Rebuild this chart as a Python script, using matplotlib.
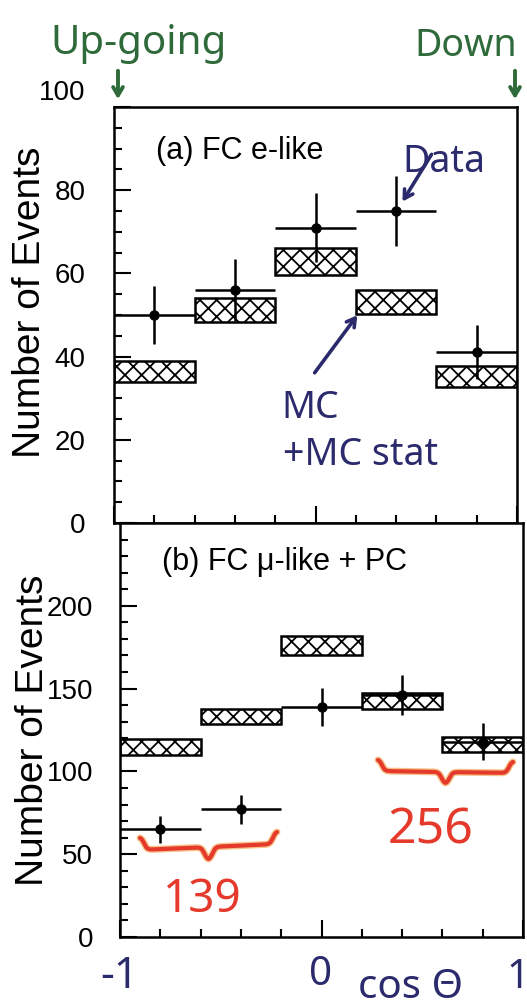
import numpy as np
import matplotlib
matplotlib.use('Agg')
import matplotlib.pyplot as plt
from matplotlib.ticker import MultipleLocator, FixedLocator
from matplotlib.transforms import ScaledTranslation

# zenith angle bins (cos theta)
bin_centers = [-0.8, -0.4, 0.0, 0.4, 0.8]
bin_half_width = 0.2

# (a) FC e-like
e_data = [50, 56, 71, 75, 41]
e_err = [7.0, 7.5, 8.3, 8.5, 6.5]
e_mc_lo = [34.0, 48.2, 59.6, 50.2, 32.8]
e_mc_hi = [39.0, 54.0, 66.2, 55.9, 37.7]

# (b) FC mu-like + PC
mu_data = [65, 77, 139, 146, 118]
mu_err = [8.0, 8.5, 11.6, 12.0, 11.0]
mu_mc_lo = [110.0, 128.4, 170.4, 137.5, 112.0]
mu_mc_hi = [119.4, 137.5, 181.9, 147.6, 120.6]

e_yticks = [0, 20, 40, 60, 80, 100]
mu_yticks = [0, 50, 100, 150, 200, 250]
mu_yticklabels = ['0', '50', '100', '150', '200', '']

GREEN = '#2f6a3a'
NAVY = '#2b2a6c'
RED = '#e5392b'

plt.rcParams['font.family'] = ['Liberation Sans', 'DejaVu Sans']
plt.rcParams['hatch.linewidth'] = 1.3

W, H = 527, 1008
fig = plt.figure(figsize=(W / 100, H / 100), dpi=100)


def px_axes(left, top, right, bottom):
    return fig.add_axes([left / W, 1 - bottom / H, (right - left) / W, (bottom - top) / H])


def draw_panel(ax, data, err, lo, hi, ymax, yminor, yticks, ylabels, title, title_y, pad):
    heights = np.array(hi) - np.array(lo)
    ax.bar(bin_centers, heights, bottom=lo, width=2 * bin_half_width,
           facecolor='white', edgecolor='black', hatch='xx', linewidth=1.8, zorder=2)
    ax.errorbar(bin_centers, data, xerr=bin_half_width, yerr=err, fmt='o',
                color='black', ms=6.5, elinewidth=1.8, capsize=0, zorder=3)
    ax.set_xlim(-1, 1)
    ax.set_ylim(0, ymax)
    ax.xaxis.set_major_locator(FixedLocator([-1, 0, 1]))
    ax.xaxis.set_minor_locator(MultipleLocator(0.2))
    ax.set_xticklabels([])
    ax.set_yticks(yticks)
    ax.set_yticklabels(ylabels)
    ax.yaxis.set_minor_locator(MultipleLocator(yminor))
    ax.tick_params(which='both', direction='in', top=False, right=False, width=1.5)
    ax.tick_params(which='major', length=12)
    ax.tick_params(which='minor', length=5.5)
    ax.tick_params(axis='y', labelsize=20, pad=pad)
    for s in ax.spines.values():
        s.set_linewidth(1.8)
    ax.text(0.105, title_y, title, transform=ax.transAxes,
            fontsize=22, ha='left', va='center')
    ax.set_ylabel('Number of Events', fontsize=28)


ax1 = px_axes(114, 107, 517, 523)
draw_panel(ax1, e_data, e_err, e_mc_lo, e_mc_hi, 100, 5,
           e_yticks, [str(v) for v in e_yticks], '(a) FC e-like', 0.895, 20.5)
ax1.yaxis.set_label_coords(-0.208, 0.53)
ax1.yaxis.label.set(va='center')

ax2 = px_axes(120, 523, 523, 937)
draw_panel(ax2, mu_data, mu_err, mu_mc_lo, mu_mc_hi, 250, 10,
           mu_yticks, mu_yticklabels, '(b) FC \u03bc-like + PC', 0.905, 19.5)
ax2.yaxis.set_label_coords(-0.216, 0.5)
ax2.yaxis.label.set(va='center')

# the "100" label sits a bit higher in the original
lab = ax1.get_yticklabels()[-1]
lab.set_transform(lab.get_transform() + ScaledTranslation(0, 0.17, fig.dpi_scale_trans))

# handwritten notes, drawn in pixel coordinates over the whole figure
ov = fig.add_axes([0, 0, 1, 1], zorder=10)
ov.set_xlim(0, W)
ov.set_ylim(H, 0)
ov.axis('off')
ov.patch.set_alpha(0)

hand = dict(family=['Noto Sans', 'DejaVu Sans'], fontweight='bold')
ov.text(50, 54, 'Up-going', color=GREEN, fontsize=29, ha='left', va='baseline', **hand)
ov.text(414, 56, 'Down', color=GREEN, fontsize=27, ha='left', va='baseline', **hand)
arrow = '->,head_length=0.6,head_width=0.35'
ov.annotate('', xy=(118, 102), xytext=(118, 68),
            arrowprops=dict(arrowstyle=arrow, color=GREEN, lw=2.8))
ov.annotate('', xy=(515, 102), xytext=(515, 68),
            arrowprops=dict(arrowstyle=arrow, color=GREEN, lw=2.8))

ov.text(402, 172, 'Data', color=NAVY, fontsize=27, ha='left', va='baseline', **hand)
ov.annotate('', xy=(401, 204), xytext=(433, 152),
            arrowprops=dict(arrowstyle=arrow, color=NAVY, lw=2.6))
ov.text(281, 418, 'MC', color=NAVY, fontsize=27, ha='left', va='baseline', **hand)
ov.text(283, 465, '+MC stat', color=NAVY, fontsize=27, ha='left', va='baseline', **hand)
ov.annotate('', xy=(359, 313), xytext=(313, 375),
            arrowprops=dict(arrowstyle=arrow, color=NAVY, lw=2.6))

ov.text(100, 988, '-1', color=NAVY, fontsize=31, ha='left', va='baseline', **hand)
ov.text(321, 985, '0', color=NAVY, fontsize=29, ha='center', va='baseline', **hand)
ov.text(358, 998, 'cos \u0398', color=NAVY, fontsize=29, ha='left', va='baseline', **hand)
ov.text(506, 988, '1', color=NAVY, fontsize=29, ha='left', va='baseline', **hand)


def brace(x0, x1, yl, yr, depth):
    u = np.linspace(0, 0.5, 120)
    a = 90
    h = 1 / (1 + np.exp(-a * (u - 0.03))) + 1 / (1 + np.exp(-a * (u - 0.47)))
    h = (h - h[0]) / (h[-1] - h[0])
    frac = np.concatenate([u, 1 - u[::-1]])
    hh = np.concatenate([h, h[::-1]])
    xs = x0 + (x1 - x0) * frac
    ys = yl + (yr - yl) * frac + depth * hh
    ov.plot(xs, ys, color='#f39a3a', lw=5, alpha=0.6, solid_capstyle='round')
    ov.plot(xs, ys, color=RED, lw=3, solid_capstyle='round')


brace(140, 277, 838, 832, 24)
brace(378, 513, 760, 762, 22)
ov.text(163, 912, '139', color=RED, fontsize=33, ha='left', va='baseline', **hand)
ov.text(388, 843, '256', color=RED, fontsize=36, ha='left', va='baseline', **hand)

fig.savefig('out.png', dpi=100)
